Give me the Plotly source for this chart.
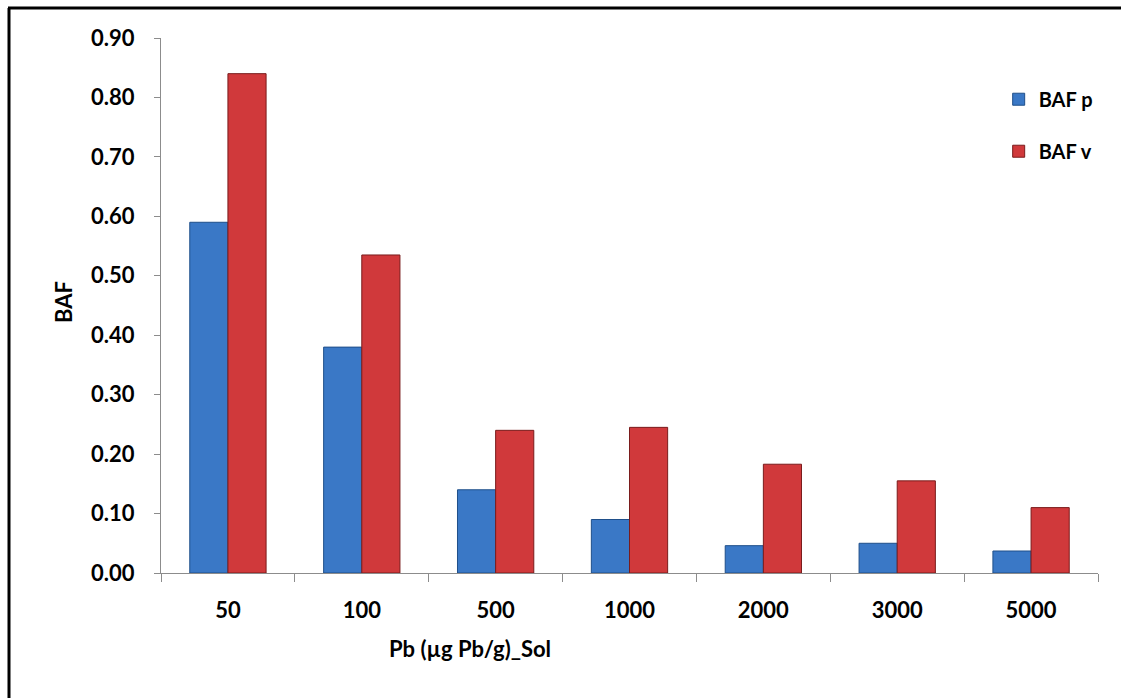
import plotly.graph_objects as go

categories = ["50", "100", "500", "1000", "2000", "3000", "5000"]
baf_p = [0.59, 0.38, 0.14, 0.09, 0.046, 0.05, 0.037]
baf_v = [0.84, 0.535, 0.24, 0.245, 0.183, 0.155, 0.11]
y_ticks = [0.0, 0.1, 0.2, 0.3, 0.4, 0.5, 0.6, 0.7, 0.8, 0.9]

FONT = "Lato, Calibri, Arial, sans-serif"
FS = 22

fig = go.Figure()
fig.add_trace(go.Bar(
    x=categories, y=baf_p, name="BAF p",
    marker=dict(color="#3a78c6", line=dict(color="#1f4f8a", width=1)),
    legendgroup="p",
))
fig.add_trace(go.Bar(
    x=categories, y=baf_v, name="BAF v",
    marker=dict(color="#d0393b", line=dict(color="#7a1c1c", width=1)),
    legendgroup="v",
))

fig.update_layout(
    width=1121, height=698,
    margin=dict(l=161, r=23, t=38, b=125),
    paper_bgcolor="white", plot_bgcolor="white",
    barmode="group", bargap=0.43, bargroupgap=0,
    font=dict(family=FONT, size=FS, color="black", weight="bold"),
    showlegend=True,
    legend=dict(
        x=0.894, y=0.922, xanchor="left", yanchor="top",
        font=dict(family=FONT, size=20, color="black", weight="bold"),
        itemwidth=30,
        tracegroupgap=23, bgcolor="rgba(0,0,0,0)",
    ),
    xaxis=dict(
        type="category", showgrid=False, showline=True, linecolor="#8c8c8c", linewidth=1,
        ticks="outside", ticklen=8, tickcolor="#8c8c8c", tickson="boundaries",
        ticklabelstandoff=18,
        tickfont=dict(family=FONT, size=FS, color="black", weight="bold"),
    ),
    yaxis=dict(
        range=[0, 0.9], tickvals=y_ticks, tickformat=".2f",
        showgrid=False, showline=True, linecolor="#8c8c8c", linewidth=1,
        ticks="outside", ticklen=6, tickcolor="#8c8c8c",
        ticklabelstandoff=15,
        tickfont=dict(family=FONT, size=FS, color="black", weight="bold"),
        zeroline=False,
    ),
    annotations=[
        dict(text="Pb (µg Pb/g)_Sol", xref="paper", yref="paper",
             x=(470 - 161) / 937, y=-(648 - 573) / 535, xanchor="center", yanchor="middle",
             showarrow=False, font=dict(family=FONT, size=FS, color="black", weight="bold")),
        dict(text="BAF", xref="paper", yref="paper",
             x=-(161 - 63) / 937, y=(573 - 302) / 535, xanchor="center", yanchor="middle",
             textangle=-90, showarrow=False,
             font=dict(family=FONT, size=FS, color="black", weight="bold")),
    ],
    shapes=[
        dict(type="line", xref="paper", yref="paper",
             x0=-(161 - 8) / 937, x1=(1121 - 161) / 937,
             y0=(573 - 8) / 535, y1=(573 - 8) / 535,
             line=dict(color="black", width=3)),
        dict(type="line", xref="paper", yref="paper",
             x0=-(161 - 9) / 937, x1=-(161 - 9) / 937,
             y0=(573 - 8) / 535, y1=-(698 - 573) / 535,
             line=dict(color="black", width=3)),
    ],
)

fig.write_html("out.html")
